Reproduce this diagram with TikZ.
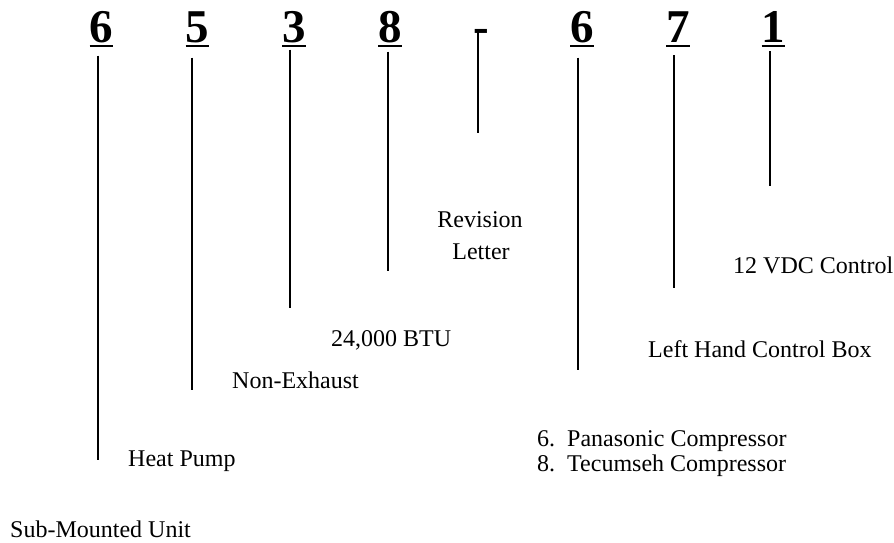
\documentclass[tikz,border=0pt]{standalone}
\usepackage{fontspec}
\setmainfont{Liberation Serif}
\usepackage{tikz}
\usetikzlibrary{positioning, calc}
\tikzset{
  digitnode/.style={font=\fontsize{47}{47}\selectfont\bfseries, inner sep=0pt, anchor=base},
  underbar/.style={line width=1.8pt},
  leadline/.style={line width=1.8pt},
  tag/.style={font=\fontsize{24}{26}\selectfont, inner sep=0pt, anchor=base west},
  tagmid/.style={font=\fontsize{24}{26}\selectfont, inner sep=0pt, anchor=base}
}

\begin{document}
\begin{tikzpicture}[x=1pt, y=-1pt]
    \useasboundingbox (0,0) rectangle (894,543);

    % model number digits
    \node[digitnode] (d1) at (101.5,43) {6};
    \node[digitnode] (d2) at (197.5,43) {5};
    \node[digitnode] (d3) at (294,43) {3};
    \node[digitnode] (d4) at (390,43) {8};
    \node[digitnode] (hy) at (481.5,43) {-};
    \node[digitnode] (d5) at (582,43) {6};
    \node[digitnode] (d6) at (678,43) {7};
    \node[digitnode] (d7) at (773.5,43) {1};

    % underlines
    \foreach \n in {d1,d2,d3,d4,d5,d6,d7}
        \draw[underbar] ([yshift=-3pt]\n.base west) -- ([yshift=-3pt]\n.base east);

    % lead lines, one per digit
    \foreach \n/\x/\g/\yb in {d1/98/12/460, d2/192/14/390, d3/290/6/308, d4/388/8/271,
                              d5/578/14/370, d6/674/12/288, d7/770/8/186} {
        \coordinate (\n end) at (\x,\yb);
        \draw[leadline] ([yshift=-\g pt]\n.south -| \n end) -- (\n end);
    }
    \coordinate (hy end) at (478,133);
    \draw[leadline] (hy.north -| hy end) -- (hy end);

    % labels
    \node[tag] (heat) at (128,466) {Heat Pump};
    \node[tag] (sub) at (10,537) {Sub-Mounted Unit};
    \node[tag] (nonex) at (232,388) {Non-Exhaust};
    \node[tag] (btu) at (331,346) {24,000 BTU};
    \node[tagmid] (rev) at (480,227) {Revision};
    \node[tagmid] (letter) at (481,259) {Letter};
    \node[tag] (vdc) at (733,273) {12 VDC Control};
    \node[tag] (lhcb) at (648,357) {Left Hand Control Box};
    \node[tag] (pana) at (537,446) {6.\ \ Panasonic Compressor};
    \node[tag] (tecu) at (537,471) {8.\ \ Tecumseh Compressor};
\end{tikzpicture}
\end{document}
